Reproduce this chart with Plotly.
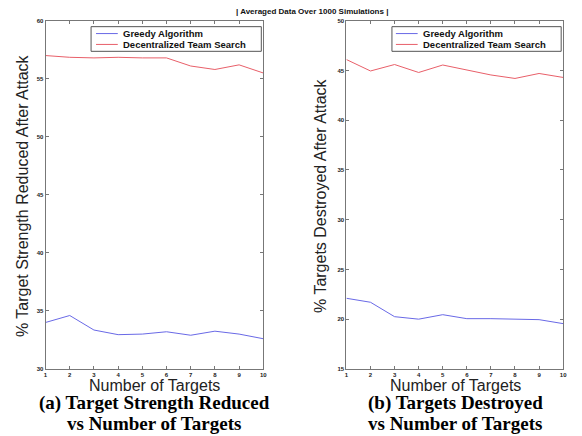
import plotly.graph_objects as go

targets = [1, 2, 3, 4, 5, 6, 7, 8, 9, 10]

# (a) % Target Strength Reduced After Attack
greedy_strength = [34.0, 34.6, 33.35, 32.95, 33.0, 33.2, 32.9, 33.25, 33.0, 32.6]
dts_strength = [57.0, 56.85, 56.8, 56.85, 56.8, 56.8, 56.1, 55.8, 56.2, 55.5]

# (b) % Targets Destroyed After Attack
greedy_destroyed = [22.1, 21.7, 20.25, 20.0, 20.45, 20.05, 20.05, 20.0, 19.95, 19.55]
dts_destroyed = [46.1, 44.95, 45.6, 44.8, 45.55, 45.05, 44.55, 44.2, 44.7, 44.3]

series_names = ["Greedy Algorithm", "Decentralized Team Search"]
yticks_a = [30, 35, 40, 45, 50, 55, 60]
yticks_b = [15, 20, 25, 30, 35, 40, 45, 50]

BLUE = "rgb(105,105,230)"
RED = "rgb(232,95,105)"
COLORS = [BLUE, RED]
W, H = 582, 436

fig = go.Figure()
for ys, xa, ya, idx in [(greedy_strength, "x", "y", 0), (dts_strength, "x", "y", 1),
                        (greedy_destroyed, "x2", "y2", 0), (dts_destroyed, "x2", "y2", 1)]:
    fig.add_trace(go.Scatter(x=targets, y=ys, mode="lines", name=series_names[idx],
                             line=dict(color=COLORS[idx], width=1), xaxis=xa, yaxis=ya,
                             showlegend=False))

tickfont = dict(family="Liberation Sans, Arial, sans-serif", size=6, color="#222", weight="bold")
common_axis = dict(showline=True, linecolor="#777", linewidth=1, mirror="allticks",
                   ticks="inside", ticklen=3, tickcolor="#777", showgrid=False,
                   zeroline=False, tickfont=tickfont, ticklabelstandoff=0)

ydom = [1 - 371 / H, 1 - 18 / H]
fig.update_layout(
    width=W, height=H,
    margin=dict(l=0, r=0, t=0, b=0),
    paper_bgcolor="white", plot_bgcolor="white",
    xaxis=dict(domain=[44 / W, 264 / W], range=[1, 10], tickvals=targets, anchor="y", **common_axis),
    yaxis=dict(domain=ydom, range=[30, 60], tickvals=yticks_a, anchor="x", **common_axis),
    xaxis2=dict(domain=[348 / W, 567 / W], range=[1, 10], tickvals=targets, anchor="y2", **common_axis),
    yaxis2=dict(domain=ydom, range=[15, 50], tickvals=yticks_b, anchor="x2", **common_axis),
    showlegend=False,
)

sans = "Liberation Sans, Arial, sans-serif"
serif = "Liberation Serif, Times New Roman, serif"


def px(xp):
    return xp / W


def py(yp):
    return 1 - yp / H


ann = []
shapes = []

# manual legends (box, line samples, labels)
for bx0, bx1, lx0, lx1, tx in [(90, 262, 95, 117, 121), (394, 565, 398, 420, 424)]:
    shapes.append(dict(type="rect", xref="paper", yref="paper", x0=px(bx0), x1=px(bx1),
                       y0=py(49), y1=py(24), line=dict(color="#555", width=1), fillcolor="white"))
    for i, rowy in enumerate([31, 42]):
        shapes.append(dict(type="line", xref="paper", yref="paper", x0=px(lx0), x1=px(lx1),
                           y0=py(rowy), y1=py(rowy), line=dict(color=COLORS[i], width=1)))
        ann.append(dict(text=series_names[i], x=px(tx), y=py(rowy), xref="paper", yref="paper",
                        showarrow=False, xanchor="left", yanchor="middle", borderpad=0,
                        font=dict(family=sans, size=9.5, color="#111", weight="bold")))

ann.append(dict(text="| Averaged Data Over 1000 Simulations |", x=px(313), y=py(9),
                xref="paper", yref="paper", showarrow=False, xanchor="center", yanchor="middle",
                font=dict(family=sans, size=8, color="#111", weight="bold")))
ann.append(dict(text="% Target Strength Reduced After Attack", x=px(21), y=py(195),
                xref="paper", yref="paper", showarrow=False, textangle=-90,
                xanchor="center", yanchor="middle", font=dict(family=sans, size=16, color="#222")))
ann.append(dict(text="% Targets Destroyed After Attack", x=px(322), y=py(195),
                xref="paper", yref="paper", showarrow=False, textangle=-90,
                xanchor="center", yanchor="middle", font=dict(family=sans, size=16, color="#222")))
for cx, cap1, cap2 in [(154, "(a) Target Strength Reduced", "vs Number of Targets"),
                       (458, "(b) Targets Destroyed", "vs Number of Targets")]:
    ann.append(dict(text="Number of Targets", x=px(cx), y=py(388), xref="paper", yref="paper",
                    showarrow=False, xanchor="center", yanchor="middle", borderpad=0,
                    font=dict(family=sans, size=16, color="#222")))
    ann.append(dict(text=cap1, x=px(cx), y=py(406), xref="paper", yref="paper",
                    showarrow=False, xanchor="center", yanchor="middle", borderpad=0,
                    font=dict(family=serif, size=19, color="#000", weight="bold")))
    ann.append(dict(text=cap2, x=px(cx), y=py(426), xref="paper", yref="paper",
                    showarrow=False, xanchor="center", yanchor="middle", borderpad=0,
                    font=dict(family=serif, size=19, color="#000", weight="bold")))
fig.update_layout(annotations=ann, shapes=shapes)

fig.write_html("out.html", config={"displayModeBar": False},
               post_script="document.body.style.margin='0';")
